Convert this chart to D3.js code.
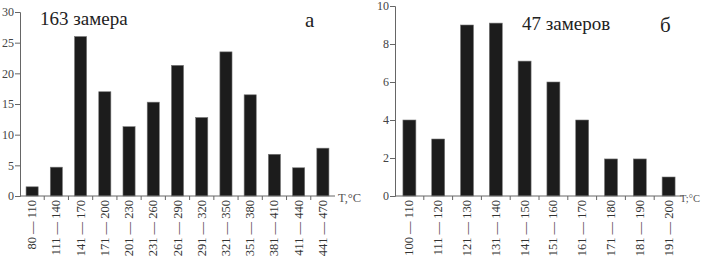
<!doctype html>
<html lang="ru">
<head>
<meta charset="UTF-8">
<title>Гистограммы температур</title>
</head>
<body style="margin:0;background:#fff">
<svg width="701" height="261" font-family="Liberation Serif"></svg>
<script src="https://d3js.org/d3.v7.min.js"></script>
<script>
  // panel "а"
  const rangesA = ['80 — 110', '111 — 140', '141 — 170', '171 — 200', '201 — 230', '231 — 260', '261 — 290',
    '291 — 320', '321 — 350', '351 — 380', '381 — 410', '411 — 440', '441 — 470']
  const valuesA = [1.5, 4.7, 26, 17, 11.3, 15.3, 21.3, 12.8, 23.5, 16.5, 6.8, 4.6, 7.8]
  const ticksA = [0, 5, 10, 15, 20, 25, 30]

  // panel "б"
  const rangesB = ['100 — 110', '111 — 120', '121 — 130', '131 — 140', '141 — 150', '151 — 160', '161 — 170',
    '171 — 180', '181 — 190', '191 — 200']
  const valuesB = [4, 3, 9, 9.1, 7.1, 6, 4, 1.95, 1.95, 1]
  const ticksB = [0, 2, 4, 6, 8, 10]

  const FONT = 'Liberation Serif'
  const svg = d3.select('svg')

  const drawPanel = (opt) => {
    const g = svg.append('g').attr('font-family', FONT)
    const x = d3.scaleBand()
      .domain(opt.ranges)
      .range([opt.x0, opt.x1])
      .paddingInner(opt.pad)
      .paddingOuter(opt.pad / 2)
    const y = d3.scaleLinear()
      .domain([0, opt.max])
      .range([196, opt.yTop])

    // bars
    g.selectAll('rect')
      .data(opt.values)
      .enter()
      .append('rect')
      .attr('x', (d, i) => x(opt.ranges[i]))
      .attr('width', x.bandwidth())
      .attr('y', d => y(d))
      .attr('height', d => y(0) - y(d))
      .attr('fill', '#1c1c1c')
      .attr('stroke', '#777')
      .attr('stroke-width', 0.6)

    // y axis
    const yAxis = g.append('g')
      .attr('transform', `translate(${opt.x0},0)`)
      .call(d3.axisLeft(y).tickValues(opt.ticks).tickSize(5).tickPadding(1))
    yAxis.attr('font-family', FONT)
    yAxis.selectAll('.domain, .tick line').attr('stroke', '#666')
    yAxis.selectAll('text').attr('font-family', FONT).attr('font-size', 12).attr('fill', '#444')

    // x axis: ticks on band boundaries
    const step = x.step()
    const bounds = opt.ranges.slice(1).map(r => x(r) - x.paddingInner() * step / 2)
    g.append('line')
      .attr('x1', opt.x0).attr('x2', opt.x1)
      .attr('y1', y(0)).attr('y2', y(0))
      .attr('stroke', '#666')
    g.selectAll('.xt')
      .data(bounds)
      .enter()
      .append('line')
      .attr('class', 'xt')
      .attr('x1', d => d).attr('x2', d => d)
      .attr('y1', y(0)).attr('y2', y(0) + 4)
      .attr('stroke', '#666')

    g.selectAll('.xl')
      .data(opt.ranges)
      .enter()
      .append('text')
      .attr('class', 'xl')
      .attr('transform', d => `translate(${x(d) + x.bandwidth() / 2 + 4},${y(0) + 4}) rotate(-90)`)
      .attr('text-anchor', 'end')
      .attr('font-family', FONT)
      .attr('font-size', 12.5)
      .attr('fill', '#333')
      .text(d => d)

    // axis name
    g.append('text')
      .attr('x', opt.x1 + opt.nameDx)
      .attr('y', y(0) + 6)
      .attr('font-family', FONT)
      .attr('font-size', opt.nameSize)
      .attr('fill', '#555')
      .text(opt.axisName)

    g.append('text')
      .attr('x', opt.noteX)
      .attr('y', opt.noteY)
      .attr('font-family', FONT)
      .attr('font-size', 19)
      .attr('fill', '#222')
      .text(opt.note)

    g.append('text')
      .attr('x', opt.letterX)
      .attr('y', opt.noteY + 2)
      .attr('font-family', FONT)
      .attr('font-size', 21)
      .attr('fill', '#222')
      .text(opt.letter)
  }

  drawPanel({
    ranges: rangesA, values: valuesA, ticks: ticksA, max: 30, yTop: 12,
    x0: 20, x1: 335, pad: 0.5, axisName: 'T,°C', nameDx: 3, nameSize: 12.5,
    note: '163 замера', noteX: 40, noteY: 25, letter: 'а', letterX: 305
  })

  drawPanel({
    ranges: rangesB, values: valuesB, ticks: ticksB, max: 10, yTop: 6,
    x0: 395, x1: 683, pad: 0.55, axisName: 'T;°C', nameDx: -3, nameSize: 10.5,
    note: '47 замеров', noteX: 522, noteY: 30, letter: 'б', letterX: 660
  })
</script>
</body>
</html>
